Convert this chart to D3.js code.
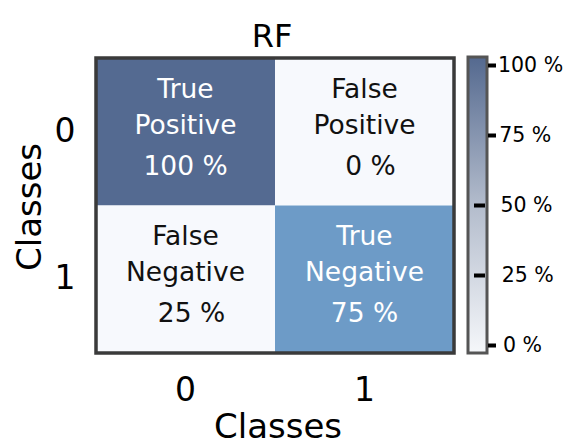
<!DOCTYPE html>
<html>
<head>
<meta charset="utf-8">
<script src="https://cdn.jsdelivr.net/npm/d3@7"></script>
<style>
  body { margin: 0; background: #fff; }
  text { font-family: "DejaVu Sans", sans-serif; }
</style>
</head>
<body>
<div id="chart"></div>
<script>
const classes = [0, 1];
const cellRows = [0, 0, 1, 1];
const cellCols = [0, 1, 0, 1];
const cellValues = [100, 0, 25, 75];
const cellNames = [["True", "Positive"], ["False", "Positive"], ["False", "Negative"], ["True", "Negative"]];
const cbTicks = [0, 25, 50, 75, 100];
const innerTicks = [25, 50];

const width = 571, height = 445;
const svg = d3.select("#chart").append("svg")
    .attr("width", width)
    .attr("height", height);

const x = d3.scaleBand().domain(classes).range([96, 454]);
const y = d3.scaleBand().domain(classes).range([58, 353]);

// cell colour (matches the picture, not the colorbar)
const cellColor = d3.scaleLinear()
    .domain([0, 50, 75, 100])
    .range(["#f7f9fd", "#f7f9fd", "#6d9bc7", "#546a91"]);

// cells
svg.selectAll("rect.cell")
    .data(cellValues)
    .enter()
    .append("rect")
    .attr("class", "cell")
    .attr("x", (d, i) => x(cellCols[i]))
    .attr("y", (d, i) => y(cellRows[i]))
    .attr("width", x.bandwidth())
    .attr("height", y.bandwidth())
    .attr("fill", d => cellColor(d));

// frame
svg.append("rect")
    .attr("x", 96).attr("y", 58)
    .attr("width", 358).attr("height", 295)
    .attr("fill", "none")
    .attr("stroke", "#3a3a3a")
    .attr("stroke-width", 3.5);

// cell labels
cellValues.forEach((v, i) => {
    const cx = x(cellCols[i]) + x.bandwidth() / 2;
    const cy = y(cellRows[i]) + y.bandwidth() / 2;
    const col = v > 50 ? "#ffffff" : "#111111";
    const lines = [cellNames[i][0], cellNames[i][1], v + " %"];
    const offs = [-34, 2, 43];
    lines.forEach((t, k) => {
        svg.append("text")
            .attr("x", cx + (k === 2 && v < 50 ? 6 : 0))
            .attr("y", cy + offs[k])
            .attr("text-anchor", "middle")
            .attr("font-size", 26.5)
            .attr("fill", col)
            .text(t);
    });
});

// axis tick labels
svg.selectAll("text.xtick")
    .data(classes)
    .enter()
    .append("text")
    .attr("class", "xtick")
    .attr("x", d => x(d) + x.bandwidth() / 2)
    .attr("y", 401)
    .attr("text-anchor", "middle")
    .attr("font-size", 33)
    .text(d => d);

svg.selectAll("text.ytick")
    .data(classes)
    .enter()
    .append("text")
    .attr("class", "ytick")
    .attr("x", 65)
    .attr("y", d => y(d) + y.bandwidth() / 2 + 10)
    .attr("text-anchor", "middle")
    .attr("font-size", 33)
    .text(d => d);

// axis titles
svg.append("text")
    .attr("x", 278).attr("y", 438)
    .attr("text-anchor", "middle")
    .attr("font-size", 34)
    .text("Classes");

svg.append("text")
    .attr("transform", "translate(41,207) rotate(-90)")
    .attr("text-anchor", "middle")
    .attr("font-size", 34)
    .text("Classes");

// title
svg.append("text")
    .attr("x", 272).attr("y", 47)
    .attr("text-anchor", "middle")
    .attr("font-size", 32)
    .text("RF");

// colorbar
const defs = svg.append("defs");
const grad = defs.append("linearGradient")
    .attr("id", "cbgrad")
    .attr("x1", 0).attr("y1", 1).attr("x2", 0).attr("y2", 0);
grad.append("stop").attr("offset", "0%").attr("stop-color", "#f5f7fa");
grad.append("stop").attr("offset", "50%").attr("stop-color", "#b3bccc");
grad.append("stop").attr("offset", "100%").attr("stop-color", "#54698f");

const cb = d3.scaleLinear().domain([0, 100]).range([345, 65]);

svg.append("rect")
    .attr("x", 468).attr("y", 57)
    .attr("width", 19).attr("height", 296)
    .attr("fill", "url(#cbgrad)")
    .attr("stroke", "#555")
    .attr("stroke-width", 3);

const cbAxis = svg.append("g")
    .attr("transform", "translate(488,0)")
    .call(d3.axisRight(cb).tickValues(cbTicks).tickSize(0).tickPadding(0).tickFormat(d => d + " %"));
cbAxis.select(".domain").remove();
cbAxis.selectAll("text")
    .attr("x", d => 10 + (100 - d) / 20)
    .attr("font-size", 20.5)
    .attr("font-family", "DejaVu Sans")
    .attr("fill", "#000");
cbAxis.selectAll(".tick").append("rect")
    .attr("x", d => innerTicks.includes(d) ? -14 : 0)
    .attr("y", -2)
    .attr("width", d => innerTicks.includes(d) ? 11 : 8)
    .attr("height", 4)
    .attr("fill", "#000");
</script>
</body>
</html>
